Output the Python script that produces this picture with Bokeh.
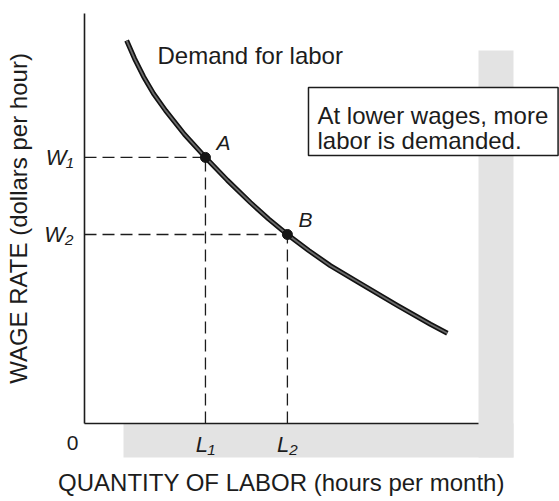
from bokeh.plotting import figure
from bokeh.models import Range1d, LinearAxis, FixedTicker, CustomJSTickFormatter
from bokeh.core.properties import value
from bokeh.embed import file_html
from bokeh.resources import INLINE

# ---- data ----
quantity = [1.07, 1.27, 1.50, 1.75, 2.06, 2.54, 3.07, 3.63, 4.21, 4.67, 5.15,
            5.69, 6.24, 7.08, 7.94, 8.78, 9.21]
wage = [9.34, 8.90, 8.46, 8.05, 7.63, 7.05, 6.49, 5.93, 5.39, 4.99, 4.61,
        4.22, 3.85, 3.37, 2.88, 2.42, 2.20]

labor_points = [3.07, 5.15]
wage_points = [6.49, 4.61]
point_names = ["A", "B"]

labor_tick_labels = ["L\u2081", "L\u2082"]
wage_tick_labels = ["W\u2081", "W\u2082"]

x_title = "QUANTITY OF LABOR (hours per month)"
y_title = "WAGE RATE (dollars per hour)"
curve_name = "Demand for labor"
note_lines = ["At lower wages, more", "labor is demanded."]

FONT = "Liberation Sans"
INK = "#1c1c1c"

p = figure(width=559, height=501,
           x_range=Range1d(-2.132, 12.056), y_range=Range1d(-1.902, 10.317),
           x_axis_type=None, y_axis_type=None,
           toolbar_location=None, output_backend="svg", min_border=0)
p.title.visible = False
p.outline_line_color = None
p.background_fill_color = "white"
p.border_fill_color = "white"

# gray decorative bands
p.quad(left=[10.0, 0.99], right=[10.888, 10.888], top=[9.098, 0.0], bottom=[-0.829, -0.829],
       fill_color="#e3e3e3", line_color=None)

# note box
p.quad(left=[5.685], right=[12.02], top=[8.195], bottom=[6.537],
       fill_color="white", line_color=INK, line_width=1.5)
p.text(x=[5.914, 5.914], y=[7.512, 6.902], text=note_lines,
       text_font=value(FONT), text_font_size="24px", text_color=INK,
       text_align="left", text_baseline="alphabetic")

# dashed guides
p.segment(x0=[0] * len(labor_points), y0=wage_points, x1=labor_points, y1=wage_points,
          line_color=INK, line_width=1.3, line_dash="12 6")
p.segment(x0=labor_points, y0=[0] * len(labor_points), x1=labor_points, y1=wage_points,
          line_color=INK, line_width=1.3, line_dash="12 6")

# demand curve (outlined stroke)
p.line(quantity, wage, line_color="#111111", line_width=5, line_join="round")
p.line(quantity, wage, line_color="#6a6a6a", line_width=1.8, line_join="round")

# points A, B
p.scatter(labor_points, wage_points, size=10, color="#151515")
p.text(x=labor_points, y=wage_points, text=point_names, x_offset=18, y_offset=-15,
       text_font=value(FONT), text_font_size="21px", text_font_style="italic",
       text_color=INK, text_align="center", text_baseline="middle")

# curve name
p.text(x=[1.853], y=[8.976], text=[curve_name], text_font=value(FONT),
       text_font_size="24px", text_color=INK, text_align="left",
       text_baseline="alphabetic")

# origin label
p.text(x=[0], y=[0], text=["0"], x_offset=-12, y_offset=19, text_font=value(FONT),
       text_font_size="21px", text_color=INK, text_align="center",
       text_baseline="middle")

# axes
xax = LinearAxis(fixed_location=0, bounds=(0, 10),
                 ticker=FixedTicker(ticks=labor_points),
                 formatter=CustomJSTickFormatter(args=dict(labels=labor_tick_labels),
                                                 code="return labels[index];"),
                 axis_label=x_title)
yax = LinearAxis(fixed_location=0, bounds=(0, 10),
                 ticker=FixedTicker(ticks=wage_points),
                 formatter=CustomJSTickFormatter(args=dict(labels=wage_tick_labels),
                                                 code="return labels[index];"),
                 axis_label=y_title)
for ax, standoff, lab_standoff in ((xax, 8, 9), (yax, 11, 9)):
    ax.axis_line_color = INK
    ax.axis_line_width = 1.6
    ax.major_tick_line_color = None
    ax.minor_tick_line_color = None
    ax.major_tick_out = 0
    ax.major_tick_in = 0
    ax.major_label_standoff = standoff
    ax.major_label_text_font = FONT
    ax.major_label_text_font_size = "22px"
    ax.major_label_text_font_style = "italic"
    ax.major_label_text_color = INK
    ax.axis_label_standoff = lab_standoff
    ax.axis_label_text_font = FONT
    ax.axis_label_text_font_size = "24px"
    ax.axis_label_text_font_style = "normal"
    ax.axis_label_text_color = INK
p.add_layout(xax, "below")
p.add_layout(yax, "left")

open("out.html", "w").write(file_html(p, INLINE))
